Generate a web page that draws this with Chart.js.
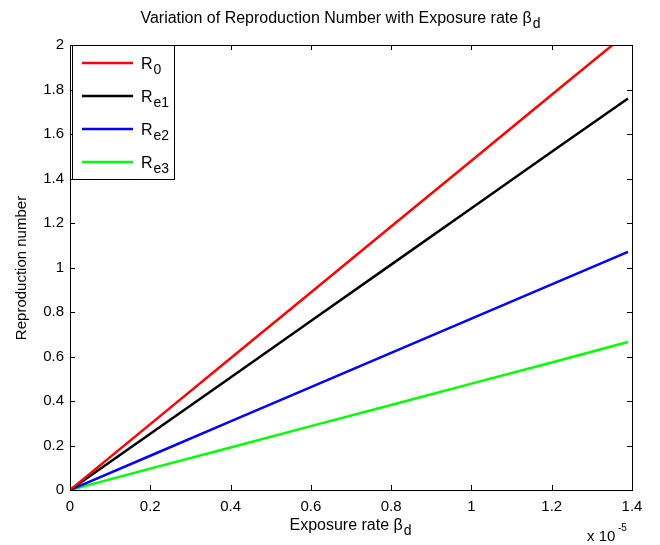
<!DOCTYPE html>
<html>
<head>
<meta charset="utf-8">
<script src="https://cdn.jsdelivr.net/npm/chart.js@4/dist/chart.umd.min.js"></script>
<style>
  html, body { margin: 0; padding: 0; background: #fff; }
  #wrap { width: 660px; height: 545px; }
</style>
</head>
<body>
<div id="wrap"><canvas id="chart" width="660" height="545"></canvas></div>
<script>
// exposure rate beta_d, in units of 1e-5
const betaD = [0, 0.2, 0.4, 0.6, 0.8, 1.0, 1.2, 1.39];
const r0  = [0, 0.296, 0.592, 0.888, 1.184, 1.48, 1.776, 2.057];
const re1 = [0, 0.253, 0.506, 0.760, 1.013, 1.266, 1.520, 1.760];
const re2 = [0, 0.154, 0.308, 0.462, 0.616, 0.770, 0.924, 1.070];
const re3 = [0, 0.096, 0.191, 0.287, 0.382, 0.478, 0.573, 0.665];
const xTicks = [0, 0.2, 0.4, 0.6, 0.8, 1, 1.2, 1.4];
const yTicks = [0, 0.2, 0.4, 0.6, 0.8, 1, 1.2, 1.4, 1.6, 1.8, 2];
const seriesNames = [['R', '0'], ['R', 'e1'], ['R', 'e2'], ['R', 'e3']];

const FONT = '"Liberation Sans", Arial, sans-serif';

function pts(ys) {
    return betaD.map((x, i) => ({ x: x, y: ys[i] }));
}

// text with a subscript part
function subText(ctx, base, sub, x, y, size, align) {
    ctx.font = size + 'px ' + FONT;
    const wb = ctx.measureText(base).width;
    ctx.font = (size - 2) + 'px ' + FONT;
    const ws = ctx.measureText(sub).width;
    let x0 = x;
    if (align === 'center') x0 = x - (wb + ws) / 2;
    ctx.textAlign = 'left';
    ctx.textBaseline = 'alphabetic';
    ctx.font = size + 'px ' + FONT;
    ctx.fillText(base, x0, y);
    ctx.font = (size - 2) + 'px ' + FONT;
    ctx.fillText(sub, x0 + wb + 1, y + 5);
}

const matlabBox = {
    id: 'matlabBox',
    afterDatasetsDraw(chart) {
        const ctx = chart.ctx;
        const a = chart.chartArea;
        const xs = chart.scales.x, ys = chart.scales.y;
        ctx.save();
        ctx.strokeStyle = '#000';
        ctx.lineWidth = 1;
        ctx.strokeRect(a.left + 0.5, a.top + 0.5, a.right - a.left, a.bottom - a.top);
        // inward ticks on all four sides
        ctx.beginPath();
        xTicks.forEach(v => {
            const px = Math.round(xs.getPixelForValue(v)) + 0.5;
            ctx.moveTo(px, a.bottom); ctx.lineTo(px, a.bottom - 5);
            ctx.moveTo(px, a.top); ctx.lineTo(px, a.top + 5);
        });
        yTicks.forEach(v => {
            const py = Math.round(ys.getPixelForValue(v)) + 0.5;
            ctx.moveTo(a.left, py); ctx.lineTo(a.left + 5, py);
            ctx.moveTo(a.right, py); ctx.lineTo(a.right - 5, py);
        });
        ctx.stroke();

        // legend
        const lx = a.left + 2, ly = a.top, lw = 102, lh = 134;
        ctx.fillStyle = '#fff';
        ctx.fillRect(lx, ly, lw, lh);
        ctx.strokeRect(lx + 0.5, ly + 0.5, lw, lh);
        chart.data.datasets.forEach((ds, i) => {
            const yy = ly + 18 + i * 33;
            ctx.strokeStyle = ds.borderColor;
            ctx.lineWidth = 2.5;
            ctx.beginPath();
            ctx.moveTo(lx + 10, yy); ctx.lineTo(lx + 61, yy);
            ctx.stroke();
            ctx.fillStyle = '#000';
            subText(ctx, seriesNames[i][0], seriesNames[i][1], lx + 69, yy + 6, 16, 'left');
        });

        // titles
        ctx.fillStyle = '#000';
        subText(ctx, 'Variation of Reproduction Number with Exposure rate \u03b2', 'd', 340, 23, 16, 'center');
        subText(ctx, 'Exposure rate \u03b2', 'd', 350, 530, 16, 'center');
        ctx.font = '15px ' + FONT;
        ctx.textAlign = 'left';
        ctx.fillText('x 10', 587, 541);
        ctx.font = '10px ' + FONT;
        ctx.fillText('-5', 618, 531);
        ctx.save();
        ctx.translate(26, 268);
        ctx.rotate(-Math.PI / 2);
        ctx.font = '15px ' + FONT;
        ctx.textAlign = 'center';
        ctx.fillText('Reproduction number', 0, 0);
        ctx.restore();
        ctx.restore();
    }
};

const lineStyle = { fill: false, pointRadius: 0, borderWidth: 2.5, tension: 0 };
const fmt = v => String(+Number(v).toFixed(1));

new Chart(document.getElementById('chart').getContext('2d'), {
    type: 'line',
    data: {
        datasets: [
            Object.assign({ label: 'R0', data: pts(r0), borderColor: '#ff0000' }, lineStyle),
            Object.assign({ label: 'Re1', data: pts(re1), borderColor: '#000000' }, lineStyle),
            Object.assign({ label: 'Re2', data: pts(re2), borderColor: '#0000ff' }, lineStyle),
            Object.assign({ label: 'Re3', data: pts(re3), borderColor: '#00ff00' }, lineStyle)
        ]
    },
    options: {
        responsive: false,
        animation: false,
        layout: { padding: { top: 45, right: 28, left: 0, bottom: 0 } },
        plugins: { legend: { display: false }, tooltip: { enabled: false } },
        scales: {
            x: {
                type: 'linear', min: 0, max: 1.4,
                afterBuildTicks: s => { s.ticks = xTicks.map(v => ({ value: v })); },
                afterFit: s => { s.height = 55; },
                grid: { display: false, drawTicks: false },
                border: { display: false },
                ticks: { color: '#000', padding: 8, maxRotation: 0, callback: fmt, font: { family: FONT, size: 15 } }
            },
            y: {
                type: 'linear', min: 0, max: 2,
                afterBuildTicks: s => { s.ticks = yTicks.map(v => ({ value: v })); },
                afterFit: s => { s.width = 70; },
                grid: { display: false, drawTicks: false },
                border: { display: false },
                ticks: { color: '#000', padding: 6, callback: fmt, font: { family: FONT, size: 15 } }
            }
        }
    },
    plugins: [matlabBox]
});
</script>
</body>
</html>
